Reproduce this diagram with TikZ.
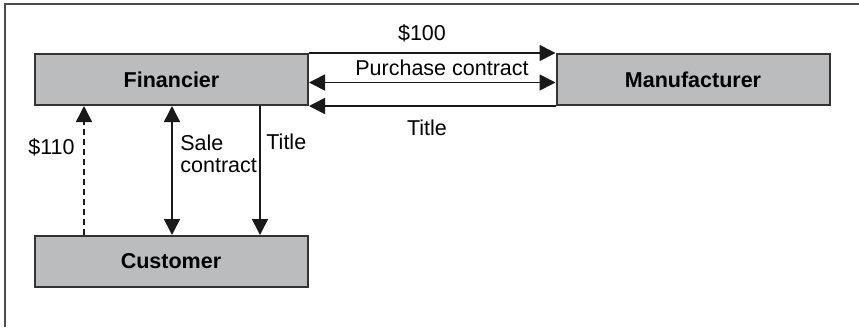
\documentclass[tikz,border=0pt]{standalone}
\usepackage{fontspec}
\setmainfont{Liberation Sans}
\usetikzlibrary{arrows.meta}
\definecolor{boxgray}{HTML}{BBBCBE}
\definecolor{edgegray}{HTML}{333333}
\begin{document}
\begin{tikzpicture}[x=1pt,y=-1pt,thick,
        main node/.style={rectangle,draw=edgegray,line width=2pt,fill=boxgray,minimum width=273pt,minimum height=51pt,inner sep=0pt,font=\fontsize{21.5}{25}\selectfont\bfseries},
        flow/.style={line width=1.6pt,draw=black!90,-{Triangle[length=16pt,width=16pt]}},
        both/.style={flow,{Triangle[length=16pt,width=16pt]}-{Triangle[length=16pt,width=16pt]}},
        lbl/.style={inner sep=0pt,font=\fontsize{21.5}{25}\selectfont}]
        \useasboundingbox (0,0) rectangle (859,327);
        \draw [line width=2pt,draw=black!70] (5,327) -- (5,4) -- (859,4);
        \node [main node] (fin) at (171.5,79.5) {Financier};
        \node [main node] (man) at (693,79.5) {Manufacturer};
        \node [main node] (cus) at (171,261.5) {Customer};
        \draw [flow] (fin.north east) -- (man.north west);
        \draw [both] ([yshift=-3]fin.east) -- ([yshift=-3]man.west);
        \draw [flow] (man.south west) -- (fin.south east);
        \draw [flow,dash pattern=on 6pt off 4pt] ([xshift=-87]cus.north) -- ([xshift=-87.5]fin.south);
        \draw [both] ([xshift=1]cus.north) -- ([xshift=0.5]fin.south);
        \draw [flow] ([xshift=88.5]fin.south) -- ([xshift=89]cus.north);
        \node [lbl] (l100) at (422,33) {\$100};
        \node [lbl] (lpc) at (442,68) {Purchase contract};
        \node [lbl] (ltm) at (427,128) {Title};
        \node [lbl,anchor=east] (l110) at (75,147) {\$110};
        \node [lbl,anchor=north west,align=left] (lsc) at (180,135) {Sale\\[-3pt]contract};
        \node [lbl,anchor=west] (ltc) at (266,142) {Title};
\end{tikzpicture}
\end{document}
